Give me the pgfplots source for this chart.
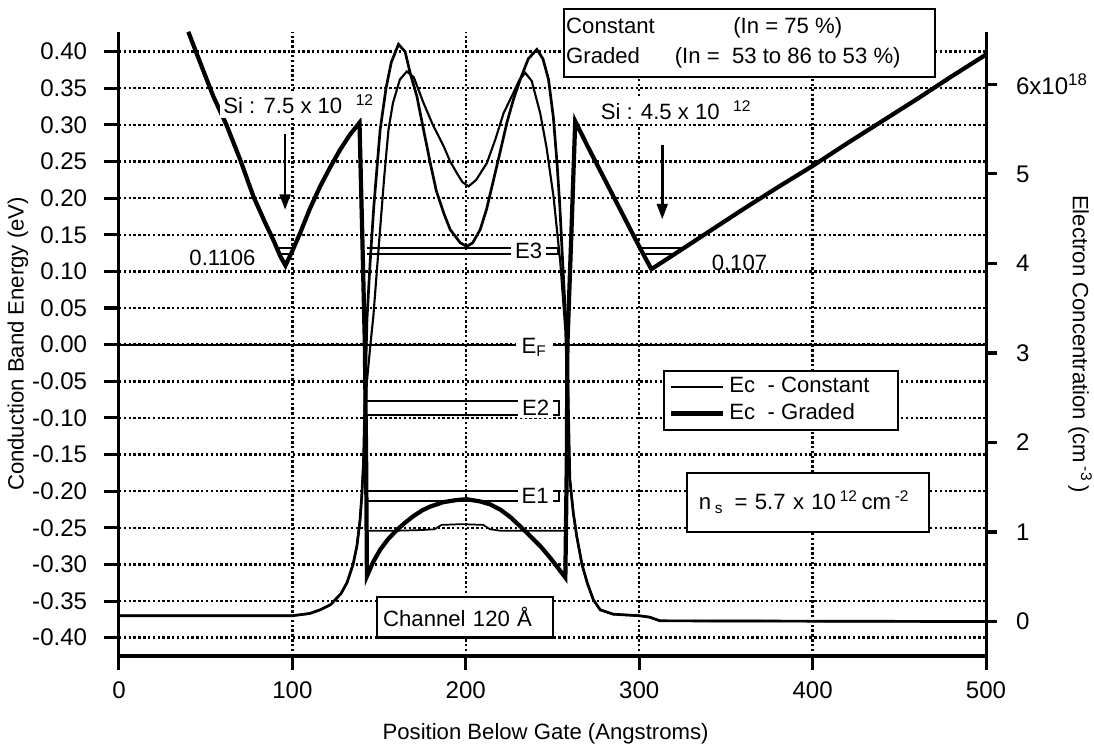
\documentclass[border=0pt]{standalone}
\usepackage{fontspec}
\setmainfont{Liberation Sans}
\usepackage{pgfplots}
\pgfplotsset{compat=1.18}
\usetikzlibrary{arrows.meta}

% band edges, energy in eV
\pgfplotstableread{
x E
40 0.427
47 0.384
54.4 0.339
62 0.300
70 0.252
77.5 0.2025
84 0.168
89 0.143
93 0.121
96 0.108
100 0.128
104.4 0.152
110 0.185
116 0.216
122 0.243
127.5 0.266
133 0.286
138.7 0.303
140.3 0.15
141.8 0.0
142.5 -0.15
143 -0.316
146.5 -0.297
150.6 -0.280
155 -0.266
160.2 -0.253
165 -0.243
169.8 -0.234
175 -0.226
179.5 -0.221
187 -0.215
194.9 -0.212
200.5 -0.211
208.3 -0.214
214 -0.218
219.8 -0.225
225.5 -0.235
231.4 -0.248
237 -0.261
243 -0.275
248 -0.289
252.6 -0.303
257.4 -0.318
258.3 -0.15
258.6 0.0
261 0.16
263.1 0.305
270 0.272
280 0.226
290 0.180
300 0.134
307 0.103
320 0.123
340 0.154
360 0.185
380 0.215
400 0.244
420 0.275
440 0.305
460 0.335
480 0.366
500 0.396
}\graded

\pgfplotstableread{
x E
40 0.427
47 0.384
54.4 0.339
62 0.300
70 0.252
77.5 0.2025
84 0.168
89 0.143
93 0.121
96 0.108
100 0.128
104.4 0.152
110 0.185
116 0.216
122 0.243
127.5 0.266
133 0.286
138.7 0.303
140.3 0.15
141.8 0.0
142.6 -0.254
150 -0.254
160 -0.254
175 -0.253
182 -0.252
186 -0.246
198 -0.245
210 -0.246
214 -0.252
220 -0.254
240 -0.254
258.3 -0.254
258.6 0.0
261 0.16
263.1 0.305
270 0.272
280 0.226
290 0.180
300 0.134
307 0.103
320 0.123
340 0.154
360 0.185
380 0.215
400 0.244
420 0.275
440 0.305
460 0.335
480 0.366
500 0.396
}\constant

% electron concentration, 1e18 cm^-3
\pgfplotstableread{
x n
0 0.065
100 0.065
110 0.090
116 0.131
122 0.188
128 0.311
131.5 0.434
135 0.638
137.2 0.843
139 1.129
140 1.399
141 1.768
142 2.602
143 3.371
144.8 4.001
147 4.648
150.6 5.491
154 5.957
157 6.244
161.2 6.448
165 6.366
168 6.121
171.8 5.867
175.5 5.507
179.5 5.123
183 4.812
187.2 4.566
191 4.378
196.8 4.231
200.6 4.190
204 4.231
208.3 4.378
212 4.607
216 4.934
220 5.262
223.7 5.573
227.5 5.834
231.4 6.055
236 6.285
241 6.391
244.5 6.285
247.7 6.055
250.5 5.630
252.6 5.123
254.2 4.648
255.4 4.190
256.8 3.666
258 3.257
259 2.520
260 1.588
262 1.211
264 0.949
267 0.638
270 0.434
273.5 0.245
277.5 0.131
285 0.082
300 0.065
306 0.049
312 0.008
500 0
}\ngraded

\pgfplotstableread{
x n
0 0.065
100 0.065
110 0.090
116 0.131
122 0.188
128 0.311
131.5 0.434
135 0.638
137.2 0.843
139 1.129
140 1.399
141 1.768
142 2.300
143 2.684
145 3.093
146.7 3.412
150 4.239
153 4.975
155.4 5.491
158 5.794
162 6.055
166 6.145
170 6.080
175.6 5.794
181 5.548
187.2 5.311
191 5.139
194.9 5.008
198 4.910
201.6 4.861
206 4.934
212.2 5.123
217 5.384
221.8 5.679
227.5 5.908
231 6.055
234.3 6.129
238 6.039
242.9 5.679
246.5 5.303
250.6 4.746
254.5 4.010
257.4 3.257
258.7 2.439
260 1.588
262 1.211
264 0.949
267 0.638
270 0.434
273.5 0.245
277.5 0.131
285 0.082
300 0.065
306 0.049
312 0.008
500 0
}\nconstant

\begin{document}
\fontsize{11.5}{13.8}\selectfont
\begin{tikzpicture}
\path[use as bounding box] (-61.6bp,-48.2bp) rectangle (504.9bp,339.7bp);
\begin{axis}[
  at={(0,0)}, anchor=south west,
  scale only axis, width=449bp, height=323.2bp,
  xmin=0, xmax=500, ymin=-0.425, ymax=0.427,
  axis x line*=bottom, axis y line*=left,
  axis line style={line width=1.6pt, -},
  tick style={line width=1.6pt, black},
  tick align=outside, major tick length=7.5bp,
  tick label style={font=\fontsize{12.5}{15}\selectfont},
  xtick={0,100,200,300,400,500},
  ytick={-0.4,-0.35,-0.3,-0.25,-0.2,-0.15,-0.1,-0.05,0,0.05,0.1,0.15,0.2,0.25,0.3,0.35,0.4},
  yticklabel style={/pgf/number format/.cd, fixed, fixed zerofill, precision=2, /tikz/.cd, xshift=-5bp},
  xticklabel style={yshift=-2bp},
  /pgf/number format/assume math mode=true,
  grid=major,
  major grid style={black, line width=1.25bp, dash pattern=on 1.25bp off 1.25bp},
  xlabel={Position Below Gate (Angstroms)},
  every axis x label/.style={at={(axis description cs:0.492,-0.1238)}, anchor=center},
  ylabel={Conduction Band Energy (eV)},
  every axis y label/.style={at={(axis description cs:-0.1165,0.5)}, rotate=90, anchor=center},
  legend style={at={(axis cs:313.9,-0.034)}, anchor=north west, draw=black,
    line width=1.1pt, fill=white, inner xsep=2.5bp, inner ysep=1.5bp},
  legend cell align=left,
  legend image code/.code={\draw[#1] (0bp,0bp) -- (27bp,0bp);},
  clip=false,
]
\addplot[black, line width=0.9pt] table[x=x, y=E] {\constant};
\addlegendentry{Ec\ \ - Constant\rule{10bp}{0pt}}
\addplot[black, line width=2.2pt] table[x=x, y=E] {\graded};
\addlegendentry{Ec\ \ - Graded}

% Fermi level and subband levels
\addplot[black, line width=1bp, forget plot] coordinates {(0,0) (500,0)};
\addplot[black, line width=1bp, forget plot] coordinates {(143,0.132) (253,0.132) (253,0.124) (143,0.124)};
\addplot[black, line width=1bp, forget plot] coordinates {(91,0.132) (100.7,0.132)};
\addplot[black, line width=1bp, forget plot] coordinates {(92.5,0.124) (99.2,0.124)};
\addplot[black, line width=1bp, forget plot] coordinates {(300,0.132) (325.8,0.132)};
\addplot[black, line width=1bp, forget plot] coordinates {(302.4,0.124) (320.6,0.124)};
\addplot[black, line width=1bp, forget plot] coordinates {(143,-0.077) (254,-0.077) (254,-0.096) (143,-0.096)};
\addplot[black, line width=1bp, forget plot] coordinates {(143,-0.200) (254,-0.200) (254,-0.213) (143,-0.213)};

\node[fill=white, inner xsep=2bp, inner ysep=1bp] at (axis cs:236.3,0.128) {E3};
\node[fill=white, inner xsep=2bp, inner ysep=1bp] at (axis cs:240.3,-0.0865) {E2};
\node[fill=white, inner xsep=2bp, inner ysep=1bp] at (axis cs:240,-0.2065) {E1};
\node[fill=white, inner xsep=3bp, inner ysep=1bp, anchor=base] at (axis cs:239.5,-0.012) {E\textsubscript{F}};

\node[fill=white, inner sep=2bp, anchor=base west] at (axis cs:57.8,0.315) {Si : 7.5 x 10\hspace{7bp}\textsuperscript{12}};
\node[fill=white, inner sep=2bp, anchor=base west] at (axis cs:275.4,0.307) {Si : 4.5 x 10\hspace{7bp}\textsuperscript{12}};
\draw[line width=1.4pt, -{Triangle[length=8bp, width=5.5bp]}] (axis cs:95.8,0.287) -- (axis cs:95.8,0.184);
\draw[line width=1.4pt, -{Triangle[length=8bp, width=5.5bp]}] (axis cs:313.3,0.273) -- (axis cs:313.3,0.171);
\node at (axis cs:59.7,0.119) {0.1106};
\node at (axis cs:357.8,0.112) {0.107};

\node[draw, line width=1.1pt, fill=white, anchor=north west, inner xsep=1bp, inner ysep=2.3bp] at (axis cs:256.2,0.460)
  {\renewcommand{\arraystretch}{1.12}\begin{tabular}{@{}l@{\hspace{10.4bp}}c@{\hspace{17bp}}}Constant & (In = 75 \%)\\ Graded & (In = \ 53 to 86 to 53 \%)\end{tabular}};
\node[draw, line width=1.1pt, fill=white, text width=85bp, inner xsep=3bp, minimum height=21bp, align=left] at (axis cs:199.7,-0.372) {Channel 120 Å};
\node[draw, line width=1.1pt, fill=white, text width=113bp, inner xsep=6bp, minimum height=30.5bp, align=left] at (axis cs:397.3,-0.215)
  {n\,\textsubscript{s}\, = 5.7 x 10\,\textsuperscript{12}\,cm\,\textsuperscript{-2}};
\end{axis}

\begin{axis}[
  at={(0,0)}, anchor=south west,
  scale only axis, width=449bp, height=323.2bp,
  xmin=0, xmax=500, ymin=-0.385, ymax=6.587,
  axis x line=none, axis y line*=right,
  axis line style={line width=1.6pt, -},
  tick style={line width=1.6pt, black},
  tick align=outside, major tick length=5.5bp,
  tick label style={font=\fontsize{12.5}{15}\selectfont},
  ytick={0,1,2,3,4,5,6},
  yticklabels={0,1,2,3,4,5,6x10\textsuperscript{18}},
  yticklabel style={anchor=west, xshift=6bp},
  ylabel={Electron Concentration (cm\,\textsuperscript{-3}\,)},
  every axis y label/.style={at={(axis description cs:1.1085,0.5)}, rotate=-90, anchor=center},
  clip=false,
]
\addplot[black, line width=1.4pt] table[x=x, y=n] {\ngraded};
\addplot[black, line width=1.1pt] table[x=x, y=n] {\nconstant};
\end{axis}
\end{tikzpicture}
\end{document}
